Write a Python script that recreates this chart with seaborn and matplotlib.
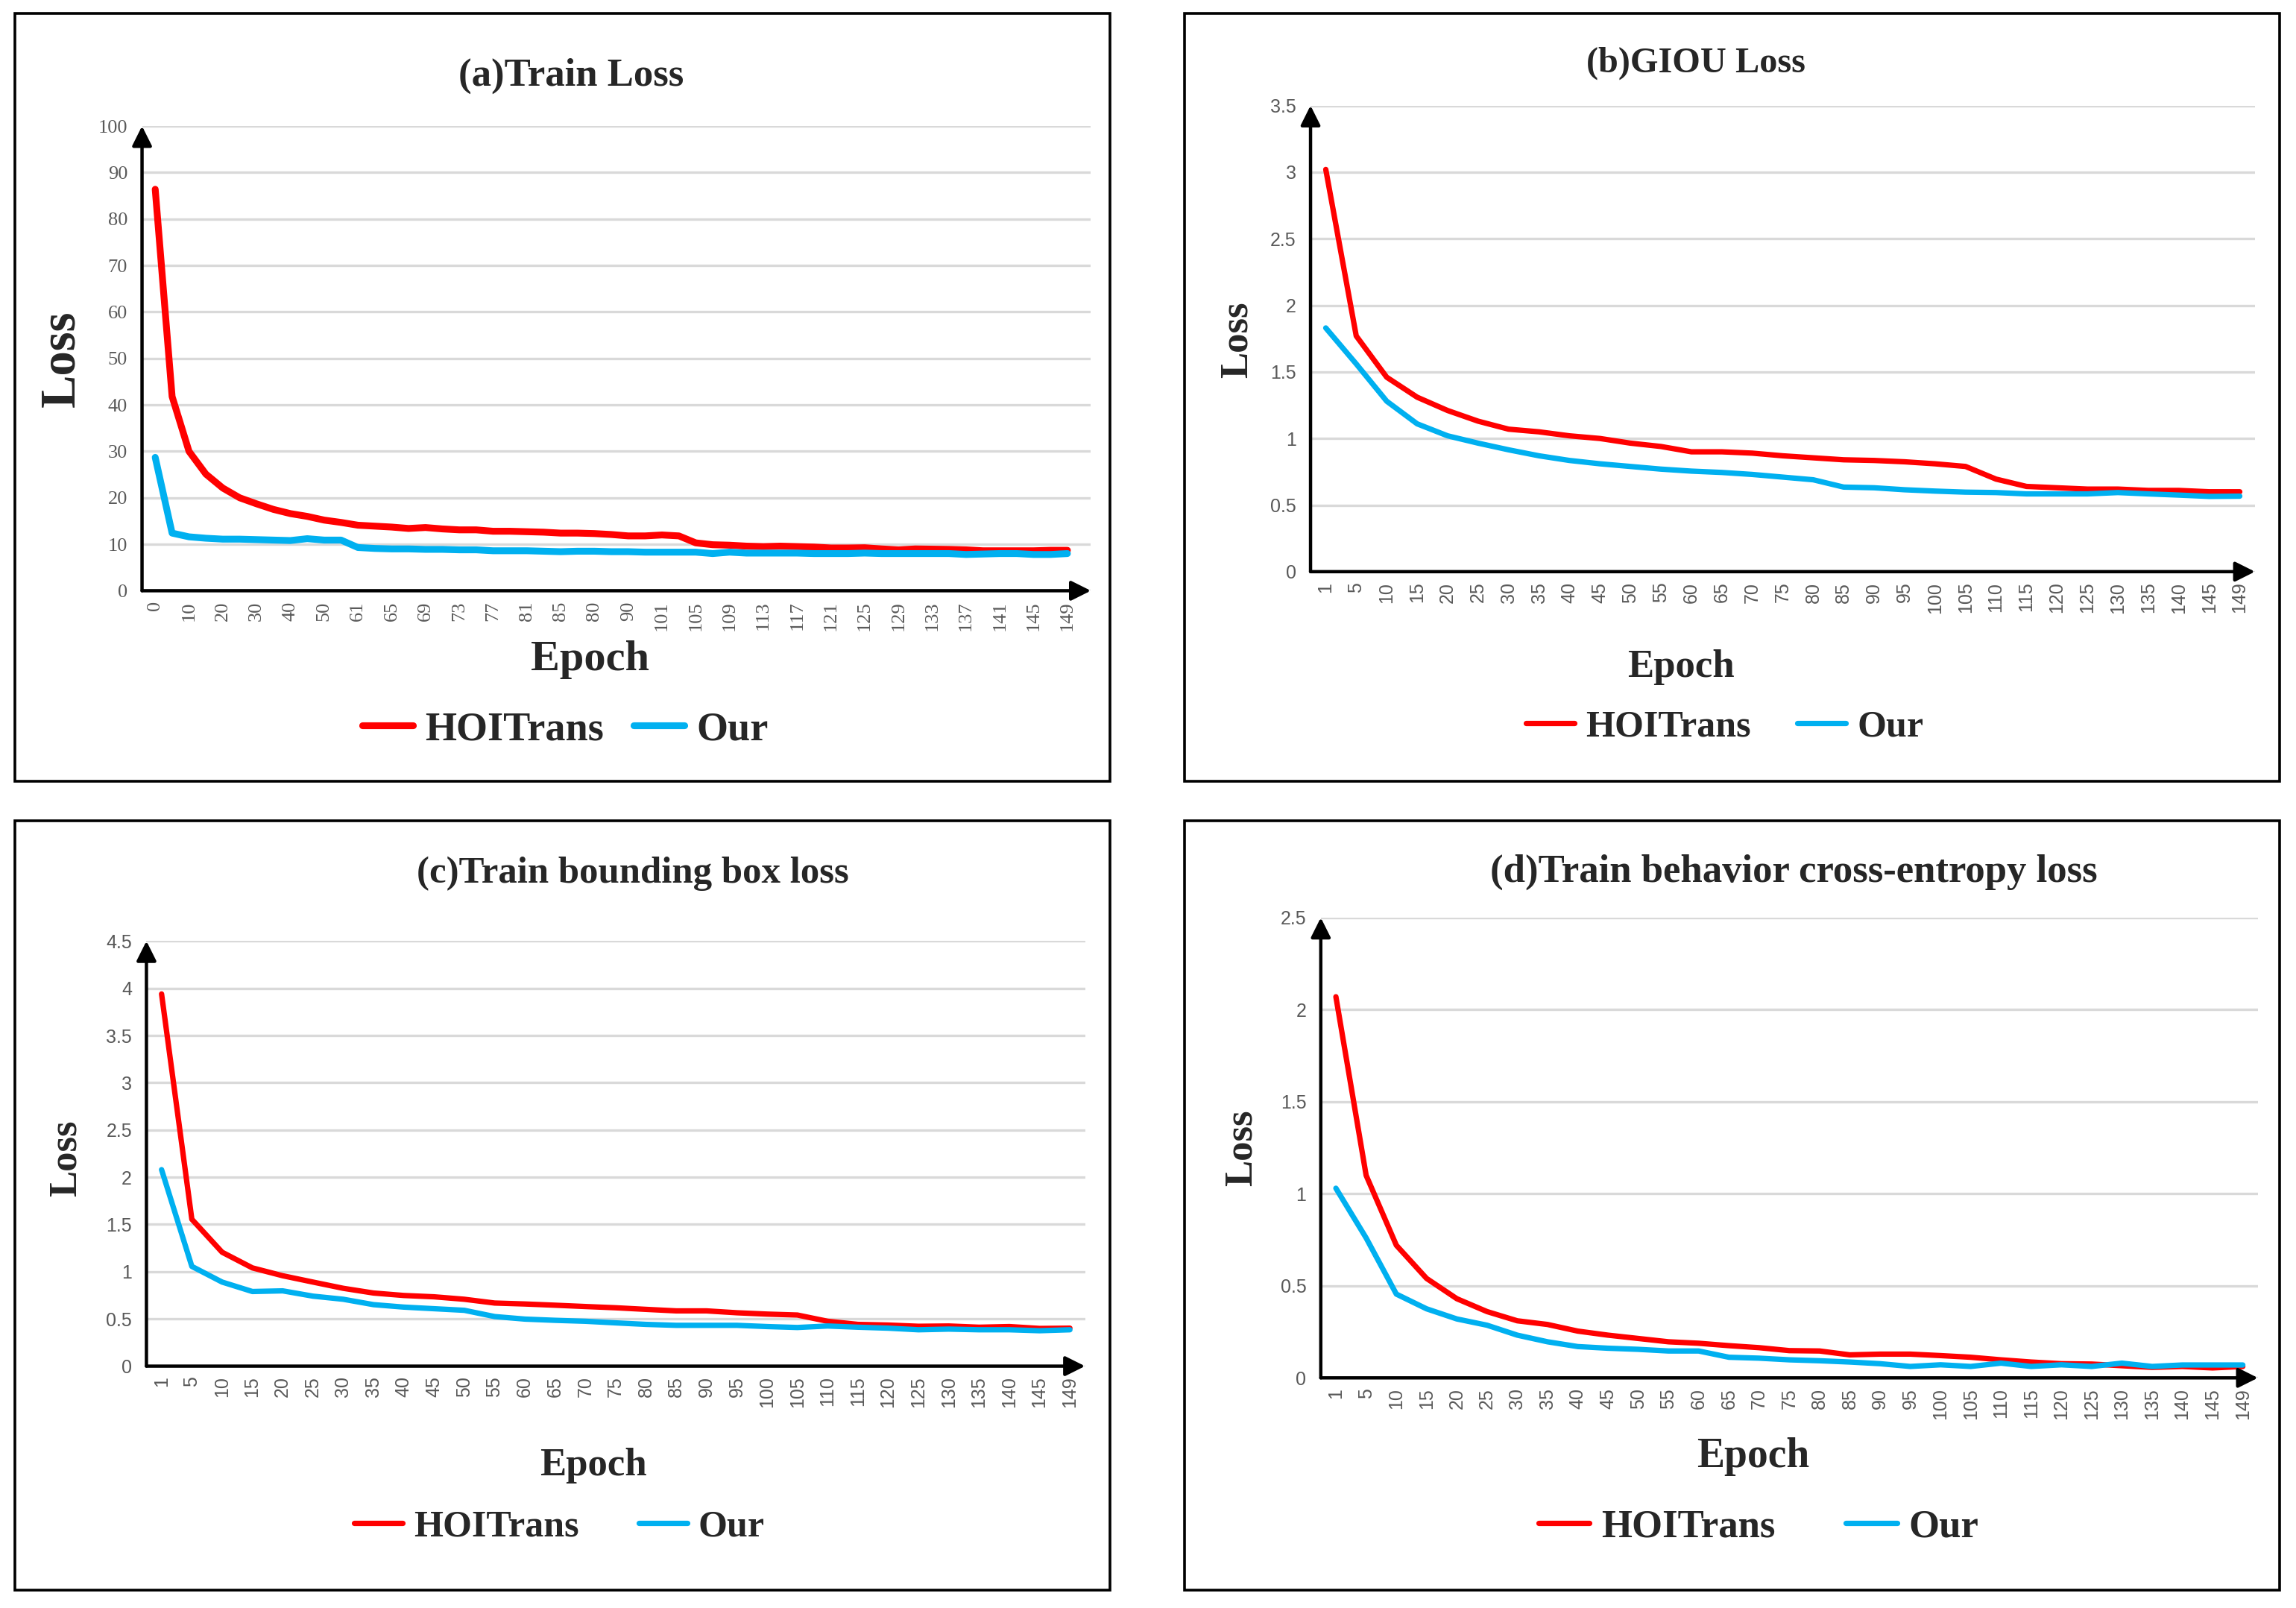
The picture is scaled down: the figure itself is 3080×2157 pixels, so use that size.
import numpy as np
import matplotlib.pyplot as plt
import seaborn as sns
from matplotlib.patches import Rectangle

# ---------------- data ----------------
a_ticks = ['0', '10', '20', '30', '40', '50', '61', '65', '69', '73', '77', '81', '85', '80',
           '90', '101', '105', '109', '113', '117', '121', '125', '129', '133', '137', '141',
           '145', '149']
# panel (a) has one extra (unlabelled) point between each pair of labels
a_hoitrans = [86.4, 41.8, 30.0, 25.1, 22.1, 20.0, 18.7, 17.5, 16.6, 16.0,
              15.2, 14.7, 14.1, 13.9, 13.7, 13.4, 13.6, 13.3, 13.1, 13.1,
              12.8, 12.8, 12.7, 12.6, 12.4, 12.4, 12.3, 12.1, 11.8, 11.8,
              12.0, 11.8, 10.3, 9.9, 9.8, 9.6, 9.5, 9.6, 9.5, 9.4,
              9.2, 9.2, 9.25, 9.0, 8.8, 9.0, 8.95, 8.9, 8.8, 8.6,
              8.6, 8.6, 8.6, 8.7, 8.7]
a_our = [28.7, 12.4, 11.6, 11.3, 11.1, 11.1, 11.0, 10.9, 10.8, 11.2,
         10.9, 10.9, 9.3, 9.1, 9.0, 9.0, 8.9, 8.9, 8.8, 8.8,
         8.6, 8.6, 8.6, 8.5, 8.4, 8.5, 8.5, 8.4, 8.4, 8.3,
         8.3, 8.3, 8.3, 8.0, 8.3, 8.1, 8.1, 8.1, 8.1, 8.0,
         8.0, 8.0, 8.1, 8.0, 8.0, 8.0, 8.0, 8.0, 7.8, 7.9,
         8.0, 8.0, 7.8, 7.8, 8.0]

epochs = ['1', '5', '10', '15', '20', '25', '30', '35', '40', '45', '50', '55', '60', '65',
          '70', '75', '80', '85', '90', '95', '100', '105', '110', '115', '120', '125', '130',
          '135', '140', '145', '149']

b_hoitrans = [3.02, 1.77, 1.46, 1.31, 1.21, 1.13, 1.07, 1.05, 1.02, 1.00, 0.965, 0.94, 0.90,
              0.90, 0.89, 0.87, 0.855, 0.84, 0.835, 0.825, 0.81, 0.79, 0.695, 0.64, 0.63,
              0.62, 0.62, 0.61, 0.61, 0.60, 0.60]
b_our = [1.83, 1.56, 1.28, 1.11, 1.02, 0.965, 0.915, 0.87, 0.835, 0.81, 0.79, 0.77, 0.755,
         0.745, 0.73, 0.71, 0.69, 0.635, 0.63, 0.615, 0.605, 0.597, 0.594, 0.584, 0.584,
         0.584, 0.594, 0.584, 0.575, 0.565, 0.567]

c_hoitrans = [3.94, 1.555, 1.206, 1.04, 0.957, 0.89, 0.824, 0.774, 0.748, 0.734, 0.708,
              0.668, 0.658, 0.645, 0.631, 0.618, 0.601, 0.585, 0.585, 0.565, 0.551, 0.541,
              0.475, 0.442, 0.435, 0.422, 0.425, 0.412, 0.419, 0.399, 0.402]
c_our = [2.08, 1.056, 0.89, 0.79, 0.797, 0.741, 0.708, 0.651, 0.625, 0.608, 0.591, 0.525,
         0.498, 0.485, 0.475, 0.458, 0.442, 0.432, 0.432, 0.432, 0.419, 0.409, 0.425, 0.412,
         0.402, 0.385, 0.392, 0.385, 0.385, 0.375, 0.385]

d_hoitrans = [2.07, 1.10, 0.72, 0.54, 0.43, 0.36, 0.31, 0.29, 0.254, 0.232, 0.214, 0.196,
              0.188, 0.175, 0.164, 0.148, 0.146, 0.125, 0.129, 0.129, 0.121, 0.112, 0.098,
              0.086, 0.077, 0.075, 0.066, 0.057, 0.062, 0.054, 0.062]
d_our = [1.03, 0.76, 0.455, 0.375, 0.32, 0.286, 0.232, 0.196, 0.17, 0.161, 0.155, 0.146,
         0.146, 0.112, 0.107, 0.098, 0.093, 0.086, 0.077, 0.062, 0.071, 0.062, 0.08, 0.062,
         0.071, 0.062, 0.08, 0.062, 0.07, 0.07, 0.07]

RED = '#FF0000'
BLUE = '#00B0F0'
GRID = '#D9D9D9'
TICK = '#595959'
SERIF = ['Liberation Serif', 'DejaVu Serif']
SANS = ['Liberation Sans', 'DejaVu Sans']

sns.set_style('white')
plt.rcParams['font.family'] = SERIF

W, H = 1568.0, 1097.0  # layout measured on a 1568-wide copy of the reference


def fx(x):
    return x / W


def fy(y):
    return 1 - y / H


fig = plt.figure(figsize=(15.4, 10.785), dpi=200)


def draw_panel(box, axbox, red, blue, ticks, tick_every, ymax, ystep, xlim,
               title, title_xy, ylab_xy, xlab_xy, leg_xy, tick_font, tick_fs,
               lw, title_fs, ylab_fs, xlab_fs, leg_fs, colspace, handlelen):
    # panel frame
    x0, y0, x1, y1 = box
    fig.add_artist(Rectangle((fx(x0), fy(y1)), (x1 - x0) / W, (y1 - y0) / H,
                             transform=fig.transFigure, fill=False, lw=1.3,
                             ec='black', zorder=0))
    l, t, r, b = axbox
    ax = fig.add_axes([fx(l), fy(b), (r - l) / W, (b - t) / H])

    xs = np.arange(len(red))
    sns.lineplot(x=xs, y=red, color=RED, linewidth=lw, ax=ax,
                 solid_capstyle='round', solid_joinstyle='round')
    sns.lineplot(x=xs, y=blue, color=BLUE, linewidth=lw, ax=ax,
                 solid_capstyle='round', solid_joinstyle='round')

    ax.set_xlim(*xlim)
    ax.set_ylim(0, ymax)
    yt = np.arange(0, ymax + ystep / 2, ystep)
    ax.set_yticks(yt)
    ax.set_yticklabels([f'{v:g}' for v in yt], family=tick_font, fontsize=tick_fs,
                       color=TICK)
    ax.set_xticks(xs[::tick_every])
    ax.set_xticklabels(ticks, rotation=90, family=tick_font, fontsize=tick_fs,
                       color=TICK)
    ax.tick_params(length=0)
    ax.tick_params(axis='y', pad=7)
    ax.tick_params(axis='x', pad=5)
    ax.set_xlabel('')
    ax.set_ylabel('')
    for s in ax.spines.values():
        s.set_visible(False)
    ax.yaxis.grid(True, color=GRID, lw=1.2)
    ax.xaxis.grid(False)
    ax.set_axisbelow(True)

    arrow = dict(arrowstyle='-|>', color='black', lw=1.6, mutation_scale=20,
                 shrinkA=0, shrinkB=0)
    ax.annotate('', xy=(0, 1.0), xytext=(0, 0), xycoords='axes fraction',
                arrowprops=arrow, annotation_clip=False)
    ax.annotate('', xy=(1.0, 0), xytext=(0, 0), xycoords='axes fraction',
                arrowprops=arrow, annotation_clip=False)

    fig.text(fx(title_xy[0]), fy(title_xy[1]), title, ha='center', va='center',
             fontsize=title_fs, fontweight='bold', family=SERIF)
    fig.text(fx(ylab_xy[0]), fy(ylab_xy[1]), 'Loss', ha='center', va='center',
             rotation=90, fontsize=ylab_fs, fontweight='bold', family=SERIF)
    fig.text(fx(xlab_xy[0]), fy(xlab_xy[1]), 'Epoch', ha='center', va='center',
             fontsize=xlab_fs, fontweight='bold', family=SERIF)

    fig.legend(handles=ax.lines[:2], labels=['HOITrans', 'Our'], loc='center',
               bbox_to_anchor=(fx(leg_xy[0]), fy(leg_xy[1])), ncol=2, frameon=False,
               prop=dict(family=SERIF, weight='bold', size=leg_fs),
               handlelength=handlelen, handletextpad=0.3, columnspacing=colspace)
    return ax


n_a = len(a_hoitrans)
draw_panel((10, 9, 758, 533), (97, 86, 745, 403), a_hoitrans, a_our, a_ticks, 2,
           100, 10, (-0.78, n_a - 1 + 1.39),
           '(a)Train Loss', (390, 52), (42, 245), (403, 450), (386, 498),
           SERIF, 9.5, 3.3, 19, 24, 21, 19.5, 0.75, 1.25)

n_e = len(epochs)
draw_panel((809, 9, 1557, 533), (895, 72, 1540, 390), b_hoitrans, b_our, epochs, 1,
           3.5, 0.5, (-0.5, n_e - 0.5),
           '(b)GIOU Loss', (1158, 43), (845, 232), (1148, 455), (1178, 496),
           SANS, 9, 2.6, 17.4, 19, 19, 18, 1.25, 1.3)

draw_panel((10, 560, 758, 1085), (100, 642, 741, 932), c_hoitrans, c_our, epochs, 1,
           4.5, 0.5, (-0.5, n_e - 0.5),
           '(c)Train bounding box loss', (432, 596), (45, 790), (405, 1000), (382, 1042),
           SANS, 9, 2.6, 18.3, 19, 19, 18, 1.6, 1.3)

draw_panel((809, 560, 1557, 1085), (902, 626, 1542, 940), d_hoitrans, d_our, epochs, 1,
           2.5, 0.5, (-0.5, n_e - 0.5),
           '(d)Train behavior cross-entropy loss', (1225, 595), (848, 783), (1197, 994),
           (1201, 1042),
           SANS, 9, 2.6, 19, 19, 20, 19, 1.8, 1.3)

fig.savefig('out.png', dpi=200, facecolor='white')
